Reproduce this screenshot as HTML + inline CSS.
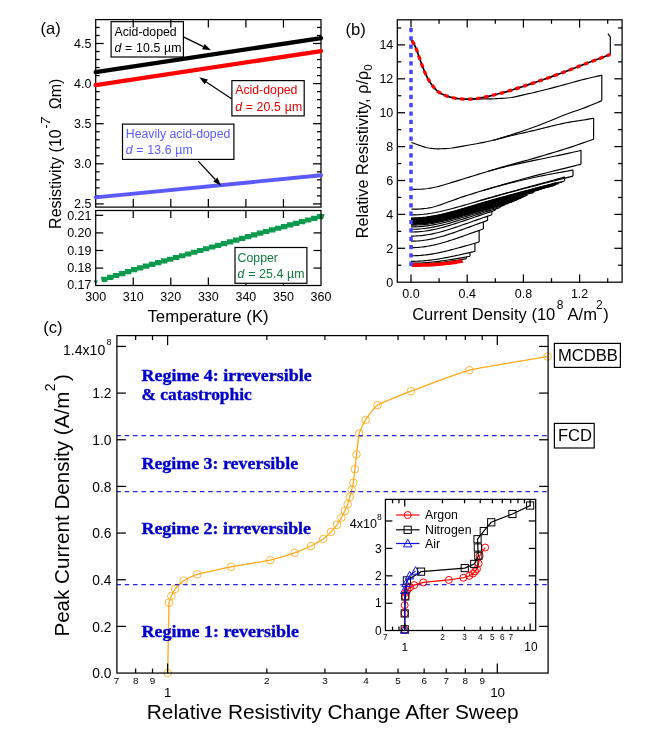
<!DOCTYPE html>
<html><head><meta charset="utf-8"><title>figure</title>
<style>
html,body{margin:0;padding:0;background:#fff;}
body{width:654px;height:740px;overflow:hidden;}
svg{display:block;will-change:transform;font-family:"Liberation Sans",sans-serif;}
.k{stroke:#000;stroke-width:1.25;fill:none;stroke-linecap:butt}
.c{stroke:#000;stroke-width:1.15;fill:none;stroke-linejoin:round}
.bx{stroke:#000;stroke-width:1.2;fill:#fff}
.rg{font-family:"Liberation Serif",serif;font-weight:bold;fill:#0000c8;stroke:#0000c8;stroke-width:0.35}
.bd{stroke:#2626d6;stroke-width:1.2;fill:none;stroke-dasharray:4.55 3.8;stroke-dashoffset:0.57}
.o{stroke:#ffa91c;stroke-width:1.3;fill:none}
</style></head><body>
<svg width="654" height="740" viewBox="0 0 654 740">
<rect width="654" height="740" fill="#fff"/>

<path d="M93.3 280.6L98.1 280.6L95.7 284.4ZM100.7 276.82L108.5 276.82L107.2 282.02L102 282.02ZM106.7 274.86L114.5 274.86L113.2 280.06L108 280.06ZM112.7 272.91L120.5 272.91L119.2 278.11L114 278.11ZM118.7 270.95L126.5 270.95L125.2 276.15L120 276.15ZM124.7 269L132.5 269L131.2 274.2L126 274.2ZM130.7 267.09L138.5 267.09L137.2 272.29L132 272.29ZM136.7 265.35L144.5 265.35L143.2 270.55L138 270.55ZM142.7 263.61L150.5 263.61L149.2 268.81L144 268.81ZM148.7 261.86L156.5 261.86L155.2 267.06L150 267.06ZM154.7 260.12L162.5 260.12L161.2 265.32L156 265.32ZM160.7 258.37L168.5 258.37L167.2 263.57L162 263.57ZM166.7 256.63L174.5 256.63L173.2 261.83L168 261.83ZM172.7 254.89L180.5 254.89L179.2 260.09L174 260.09ZM178.7 253.14L186.5 253.14L185.2 258.34L180 258.34ZM184.7 251.4L192.5 251.4L191.2 256.6L186 256.6ZM190.7 249.65L198.5 249.65L197.2 254.85L192 254.85ZM196.7 247.91L204.5 247.91L203.2 253.11L198 253.11ZM202.7 246.17L210.5 246.17L209.2 251.37L204 251.37ZM208.7 244.42L216.5 244.42L215.2 249.62L210 249.62ZM214.7 242.68L222.5 242.68L221.2 247.88L216 247.88ZM220.7 240.94L228.5 240.94L227.2 246.14L222 246.14ZM226.7 239.19L234.5 239.19L233.2 244.39L228 244.39ZM232.7 237.45L240.5 237.45L239.2 242.65L234 242.65ZM238.7 235.7L246.5 235.7L245.2 240.9L240 240.9ZM244.7 233.96L252.5 233.96L251.2 239.16L246 239.16ZM250.7 232.22L258.5 232.22L257.2 237.42L252 237.42ZM256.7 230.57L264.5 230.57L263.2 235.77L258 235.77ZM262.7 228.92L270.5 228.92L269.2 234.12L264 234.12ZM268.7 227.28L276.5 227.28L275.2 232.48L270 232.48ZM274.7 225.63L282.5 225.63L281.2 230.83L276 230.83ZM280.7 223.99L288.5 223.99L287.2 229.19L282 229.19ZM286.7 222.34L294.5 222.34L293.2 227.54L288 227.54ZM292.7 220.7L300.5 220.7L299.2 225.9L294 225.9ZM298.7 219.05L306.5 219.05L305.2 224.25L300 224.25ZM304.7 217.41L312.5 217.41L311.2 222.61L306 222.61ZM310.7 215.77L318.5 215.77L317.2 220.97L312 220.97ZM316.7 214.12L324.5 214.12L323.2 219.32L318 219.32Z" fill="#0d9a4f"/>
<rect x="95.7" y="19.6" width="225.3" height="187.5" class="k"/>
<rect x="95.7" y="210.5" width="225.3" height="75.0" class="k"/>
<line x1="133.25" y1="19.6" x2="133.25" y2="27.6" class="k"/>
<line x1="133.25" y1="207.1" x2="133.25" y2="199.1" class="k"/>
<line x1="133.25" y1="210.5" x2="133.25" y2="218" class="k"/>
<line x1="133.25" y1="285.5" x2="133.25" y2="277.5" class="k"/>
<line x1="170.8" y1="19.6" x2="170.8" y2="27.6" class="k"/>
<line x1="170.8" y1="207.1" x2="170.8" y2="199.1" class="k"/>
<line x1="170.8" y1="210.5" x2="170.8" y2="218" class="k"/>
<line x1="170.8" y1="285.5" x2="170.8" y2="277.5" class="k"/>
<line x1="208.35" y1="19.6" x2="208.35" y2="27.6" class="k"/>
<line x1="208.35" y1="207.1" x2="208.35" y2="199.1" class="k"/>
<line x1="208.35" y1="210.5" x2="208.35" y2="218" class="k"/>
<line x1="208.35" y1="285.5" x2="208.35" y2="277.5" class="k"/>
<line x1="245.9" y1="19.6" x2="245.9" y2="27.6" class="k"/>
<line x1="245.9" y1="207.1" x2="245.9" y2="199.1" class="k"/>
<line x1="245.9" y1="210.5" x2="245.9" y2="218" class="k"/>
<line x1="245.9" y1="285.5" x2="245.9" y2="277.5" class="k"/>
<line x1="283.45" y1="19.6" x2="283.45" y2="27.6" class="k"/>
<line x1="283.45" y1="207.1" x2="283.45" y2="199.1" class="k"/>
<line x1="283.45" y1="210.5" x2="283.45" y2="218" class="k"/>
<line x1="283.45" y1="285.5" x2="283.45" y2="277.5" class="k"/>
<line x1="95.7" y1="203.9" x2="103.7" y2="203.9" class="k"/>
<line x1="321" y1="203.9" x2="313" y2="203.9" class="k"/>
<line x1="95.7" y1="195.88" x2="99.7" y2="195.88" class="k"/>
<line x1="321" y1="195.88" x2="317" y2="195.88" class="k"/>
<line x1="95.7" y1="187.86" x2="99.7" y2="187.86" class="k"/>
<line x1="321" y1="187.86" x2="317" y2="187.86" class="k"/>
<line x1="95.7" y1="179.84" x2="99.7" y2="179.84" class="k"/>
<line x1="321" y1="179.84" x2="317" y2="179.84" class="k"/>
<line x1="95.7" y1="171.82" x2="99.7" y2="171.82" class="k"/>
<line x1="321" y1="171.82" x2="317" y2="171.82" class="k"/>
<line x1="95.7" y1="163.8" x2="103.7" y2="163.8" class="k"/>
<line x1="321" y1="163.8" x2="313" y2="163.8" class="k"/>
<line x1="95.7" y1="155.78" x2="99.7" y2="155.78" class="k"/>
<line x1="321" y1="155.78" x2="317" y2="155.78" class="k"/>
<line x1="95.7" y1="147.76" x2="99.7" y2="147.76" class="k"/>
<line x1="321" y1="147.76" x2="317" y2="147.76" class="k"/>
<line x1="95.7" y1="139.74" x2="99.7" y2="139.74" class="k"/>
<line x1="321" y1="139.74" x2="317" y2="139.74" class="k"/>
<line x1="95.7" y1="131.72" x2="99.7" y2="131.72" class="k"/>
<line x1="321" y1="131.72" x2="317" y2="131.72" class="k"/>
<line x1="95.7" y1="123.7" x2="103.7" y2="123.7" class="k"/>
<line x1="321" y1="123.7" x2="313" y2="123.7" class="k"/>
<line x1="95.7" y1="115.68" x2="99.7" y2="115.68" class="k"/>
<line x1="321" y1="115.68" x2="317" y2="115.68" class="k"/>
<line x1="95.7" y1="107.66" x2="99.7" y2="107.66" class="k"/>
<line x1="321" y1="107.66" x2="317" y2="107.66" class="k"/>
<line x1="95.7" y1="99.64" x2="99.7" y2="99.64" class="k"/>
<line x1="321" y1="99.64" x2="317" y2="99.64" class="k"/>
<line x1="95.7" y1="91.62" x2="99.7" y2="91.62" class="k"/>
<line x1="321" y1="91.62" x2="317" y2="91.62" class="k"/>
<line x1="95.7" y1="83.6" x2="103.7" y2="83.6" class="k"/>
<line x1="321" y1="83.6" x2="313" y2="83.6" class="k"/>
<line x1="95.7" y1="75.58" x2="99.7" y2="75.58" class="k"/>
<line x1="321" y1="75.58" x2="317" y2="75.58" class="k"/>
<line x1="95.7" y1="67.56" x2="99.7" y2="67.56" class="k"/>
<line x1="321" y1="67.56" x2="317" y2="67.56" class="k"/>
<line x1="95.7" y1="59.54" x2="99.7" y2="59.54" class="k"/>
<line x1="321" y1="59.54" x2="317" y2="59.54" class="k"/>
<line x1="95.7" y1="51.52" x2="99.7" y2="51.52" class="k"/>
<line x1="321" y1="51.52" x2="317" y2="51.52" class="k"/>
<line x1="95.7" y1="43.5" x2="103.7" y2="43.5" class="k"/>
<line x1="321" y1="43.5" x2="313" y2="43.5" class="k"/>
<line x1="95.7" y1="35.48" x2="99.7" y2="35.48" class="k"/>
<line x1="321" y1="35.48" x2="317" y2="35.48" class="k"/>
<line x1="95.7" y1="27.46" x2="99.7" y2="27.46" class="k"/>
<line x1="321" y1="27.46" x2="317" y2="27.46" class="k"/>
<line x1="95.7" y1="268.1" x2="103.2" y2="268.1" class="k"/>
<line x1="321" y1="268.1" x2="313.5" y2="268.1" class="k"/>
<line x1="95.7" y1="250.5" x2="103.2" y2="250.5" class="k"/>
<line x1="321" y1="250.5" x2="313.5" y2="250.5" class="k"/>
<line x1="95.7" y1="232.9" x2="103.2" y2="232.9" class="k"/>
<line x1="321" y1="232.9" x2="313.5" y2="232.9" class="k"/>
<line x1="95.7" y1="215.3" x2="103.2" y2="215.3" class="k"/>
<line x1="95.7" y1="72.1" x2="321.0" y2="38.1" stroke="#000" stroke-width="4.3" stroke-linecap="round"/>
<line x1="95.7" y1="85.1" x2="321.0" y2="51.1" stroke="#f00" stroke-width="4.3" stroke-linecap="round"/>
<line x1="95.7" y1="197.4" x2="321.0" y2="175.3" stroke="#5a5aff" stroke-width="3.9" stroke-linecap="round"/>
<text x="91.5" y="47.8" font-size="12.5" text-anchor="end" >4.5</text>
<text x="91.5" y="87.9" font-size="12.5" text-anchor="end" >4.0</text>
<text x="91.5" y="128" font-size="12.5" text-anchor="end" >3.5</text>
<text x="91.5" y="168.1" font-size="12.5" text-anchor="end" >3.0</text>
<text x="91.5" y="208.2" font-size="12.5" text-anchor="end" >2.5</text>
<text x="91.5" y="219.6" font-size="12.5" text-anchor="end" >0.21</text>
<text x="91.5" y="237.2" font-size="12.5" text-anchor="end" >0.20</text>
<text x="91.5" y="254.8" font-size="12.5" text-anchor="end" >0.19</text>
<text x="91.5" y="272.4" font-size="12.5" text-anchor="end" >0.18</text>
<text x="91.5" y="288.8" font-size="12.5" text-anchor="end" >0.17</text>
<text x="95.7" y="301.3" font-size="12.5" text-anchor="middle" >300</text>
<text x="133.25" y="301.3" font-size="12.5" text-anchor="middle" >310</text>
<text x="170.8" y="301.3" font-size="12.5" text-anchor="middle" >320</text>
<text x="208.35" y="301.3" font-size="12.5" text-anchor="middle" >330</text>
<text x="245.9" y="301.3" font-size="12.5" text-anchor="middle" >340</text>
<text x="283.45" y="301.3" font-size="12.5" text-anchor="middle" >350</text>
<text x="321" y="301.3" font-size="12.5" text-anchor="middle" >360</text>
<text x="208.1" y="322.4" font-size="16.8" text-anchor="middle" >Temperature (K)</text>
<text x="40.5" y="34.2" font-size="16.5" text-anchor="start" >(a)</text>
<text transform="translate(61.4 228.9) rotate(-90)" font-size="16">Resistivity (10<tspan dy="-11.5" dx="0.5" font-size="13" font-style="italic">-7</tspan><tspan dy="11.5" dx="3.5"> Ωm)</tspan></text>
<rect x="111.1" y="21.7" width="72.3" height="35.3" class="bx" style="fill:none"/>
<text x="114.5" y="35.55" font-size="12.3" text-anchor="start" fill="#000" >Acid-doped</text>
<text x="114.5" y="51.95" font-size="12.3" text-anchor="start" fill="#000" letter-spacing="0.14"><tspan font-style="italic">d</tspan> = 10.5 µm</text>
<line x1="183.4" y1="36.9" x2="203.35" y2="46.59" class="k"/>
<path d="M211 50.3L202.09 49.2L204.62 43.98Z" fill="#000"/>
<rect x="231.9" y="80.6" width="72.3" height="35.3" class="bx" style="fill:none"/>
<text x="235.2" y="94.45" font-size="12.3" text-anchor="start" fill="#e60000" >Acid-doped</text>
<text x="235.2" y="110.85" font-size="12.3" text-anchor="start" fill="#e60000" letter-spacing="0.14"><tspan font-style="italic">d</tspan> = 20.5 µm</text>
<line x1="231.9" y1="99.1" x2="206.26" y2="81.93" class="k"/>
<path d="M199.2 77.2L207.88 79.52L204.65 84.34Z" fill="#000"/>
<rect x="122.5" y="124.1" width="111.4" height="35.3" class="bx" style="fill:none"/>
<text x="125.8" y="137.95" font-size="12.3" text-anchor="start" fill="#5a5aff" >Heavily acid-doped</text>
<text x="125.8" y="154.35" font-size="12.3" text-anchor="start" fill="#5a5aff" letter-spacing="0.14"><tspan font-style="italic">d</tspan> = 13.6 µm</text>
<line x1="198.2" y1="161.1" x2="215.31" y2="179.48" class="k"/>
<path d="M221.1 185.7L213.19 181.45L217.43 177.5Z" fill="#000"/>
<rect x="235" y="247.5" width="71.9" height="35.8" class="bx" style="fill:#fff"/>
<text x="237.6" y="261.6" font-size="12.3" text-anchor="start" fill="#0d7a3f" >Copper</text>
<text x="237.6" y="278" font-size="12.3" text-anchor="start" fill="#0d7a3f" letter-spacing="0.14"><tspan font-style="italic">d</tspan> = 25.4 µm</text>
<path d="M411 264.4 L412.39 264.4 L413.77 264.39 L415.16 264.36 L416.55 264.33 L417.94 264.29 L419.32 264.25 L420.71 264.19 L422.1 264.12 L423.49 264.05 L424.87 263.97 L426.26 263.88 L427.65 263.78 L429.04 263.67 L430.42 263.56 L431.81 263.44 L433.2 263.31 L434.59 263.17 L435.97 263.02 L437.36 262.87 L438.75 262.72 L440.14 262.55 L441.52 262.38 L442.91 262.21 L444.3 262.03 L445.69 261.84 L447.07 261.65 L448.46 261.46 L449.85 261.26 L451.24 261.06 L452.62 260.85 L454.01 260.65 L455.4 260.44 L456.79 260.22 L458.17 260.01 L459.56 259.79 L460.95 259.58 L462.34 259.36 L463.72 259.14 L465.11 258.92 L466.5 258.7" class="c" />
<path d="M411 263.22 L412.48 263.21 L413.95 263.19 L415.43 263.17 L416.9 263.13 L418.38 263.08 L419.85 263.02 L421.33 262.95 L422.8 262.87 L424.28 262.77 L425.75 262.67 L427.23 262.56 L428.7 262.44 L430.18 262.3 L431.65 262.16 L433.13 262.01 L434.6 261.84 L436.08 261.67 L437.55 261.49 L439.03 261.31 L440.5 261.11 L441.98 260.91 L443.46 260.7 L444.93 260.49 L446.41 260.26 L447.88 260.04 L449.36 259.81 L450.83 259.57 L452.31 259.33 L453.78 259.09 L455.26 258.84 L456.73 258.59 L458.21 258.34 L459.68 258.08 L461.16 257.83 L462.63 257.57 L464.11 257.31 L465.58 257.05 L467.06 256.79 L468.53 256.53 L470.01 256.27" class="c" />
<path d="M411 261.35 L412.6 261.34 L414.2 261.32 L415.79 261.28 L417.39 261.22 L418.99 261.15 L420.59 261.06 L422.19 260.95 L423.79 260.83 L425.38 260.69 L426.98 260.54 L428.58 260.37 L430.18 260.18 L431.78 259.99 L433.37 259.77 L434.97 259.55 L436.57 259.31 L438.17 259.06 L439.77 258.79 L441.37 258.52 L442.96 258.23 L444.56 257.94 L446.16 257.63 L447.76 257.32 L449.36 257 L450.95 256.67 L452.55 256.34 L454.15 256 L455.75 255.66 L457.35 255.31 L458.95 254.96 L460.54 254.61 L462.14 254.25 L463.74 253.9 L465.34 253.54 L466.94 253.18 L468.53 252.82 L470.13 252.46 L471.73 252.1 L473.33 251.74 L474.93 251.38" class="c" />
<path d="M411 255.76 L412.7 255.75 L414.41 255.71 L416.11 255.65 L417.81 255.57 L419.52 255.47 L421.22 255.34 L422.92 255.19 L424.63 255.01 L426.33 254.82 L428.04 254.6 L429.74 254.36 L431.44 254.1 L433.15 253.82 L434.85 253.52 L436.55 253.2 L438.26 252.86 L439.96 252.51 L441.66 252.14 L443.37 251.75 L445.07 251.35 L446.77 250.94 L448.48 250.52 L450.18 250.09 L451.89 249.65 L453.59 249.2 L455.29 248.74 L457 248.28 L458.7 247.81 L460.4 247.34 L462.11 246.86 L463.81 246.39 L465.51 245.91 L467.22 245.43 L468.92 244.95 L470.62 244.46 L472.33 243.98 L474.03 243.5 L475.74 243.02 L477.44 242.54 L479.14 242.07" class="c" />
<path d="M411 247.62 L412.81 247.61 L414.62 247.56 L416.43 247.47 L418.24 247.36 L420.04 247.21 L421.85 247.03 L423.66 246.81 L425.47 246.57 L427.28 246.29 L429.09 245.98 L430.9 245.65 L432.71 245.28 L434.52 244.88 L436.33 244.46 L438.13 244.01 L439.94 243.54 L441.75 243.05 L443.56 242.53 L445.37 242 L447.18 241.45 L448.99 240.88 L450.8 240.3 L452.61 239.71 L454.41 239.1 L456.22 238.49 L458.03 237.87 L459.84 237.24 L461.65 236.61 L463.46 235.97 L465.27 235.33 L467.08 234.69 L468.89 234.05 L470.69 233.41 L472.5 232.77 L474.31 232.12 L476.12 231.48 L477.93 230.85 L479.74 230.21 L481.55 229.57 L483.36 228.94" class="c" />
<path d="M411 241.18 L412.91 241.16 L414.83 241.1 L416.74 241.01 L418.66 240.88 L420.57 240.7 L422.49 240.49 L424.4 240.25 L426.31 239.97 L428.23 239.65 L430.14 239.29 L432.06 238.9 L433.97 238.48 L435.89 238.03 L437.8 237.55 L439.71 237.04 L441.63 236.5 L443.54 235.94 L445.46 235.35 L447.37 234.75 L449.29 234.13 L451.2 233.49 L453.11 232.84 L455.03 232.18 L456.94 231.51 L458.86 230.83 L460.77 230.14 L462.69 229.45 L464.6 228.75 L466.52 228.05 L468.43 227.35 L470.34 226.65 L472.26 225.95 L474.17 225.25 L476.09 224.55 L478 223.85 L479.92 223.16 L481.83 222.46 L483.74 221.77 L485.66 221.09 L487.57 220.4" class="c" />
<path d="M411 236.1 L413.02 236.08 L415.04 236.01 L417.06 235.91 L419.08 235.77 L421.1 235.59 L423.12 235.37 L425.14 235.1 L427.16 234.8 L429.18 234.46 L431.2 234.09 L433.22 233.68 L435.24 233.23 L437.26 232.75 L439.28 232.24 L441.3 231.71 L443.31 231.14 L445.33 230.56 L447.35 229.95 L449.37 229.32 L451.39 228.68 L453.41 228.02 L455.43 227.35 L457.45 226.67 L459.47 225.98 L461.49 225.28 L463.51 224.58 L465.53 223.88 L467.55 223.17 L469.57 222.46 L471.59 221.75 L473.61 221.05 L475.63 220.34 L477.65 219.64 L479.67 218.93 L481.69 218.23 L483.71 217.54 L485.73 216.84 L487.75 216.15 L489.77 215.47 L491.79 214.78" class="c" />
<path d="M411 232.03 L413.11 232.01 L415.21 231.94 L417.32 231.84 L419.43 231.69 L421.54 231.49 L423.64 231.26 L425.75 230.98 L427.86 230.67 L429.97 230.31 L432.07 229.92 L434.18 229.49 L436.29 229.02 L438.4 228.52 L440.5 227.99 L442.61 227.44 L444.72 226.85 L446.83 226.24 L448.94 225.62 L451.04 224.97 L453.15 224.31 L455.26 223.63 L457.37 222.95 L459.47 222.25 L461.58 221.55 L463.69 220.85 L465.8 220.13 L467.9 219.42 L470.01 218.71 L472.12 218 L474.23 217.28 L476.33 216.57 L478.44 215.86 L480.55 215.16 L482.65 214.45 L484.76 213.75 L486.87 213.06 L488.98 212.36 L491.09 211.67 L493.19 210.98 L495.3 210.3" class="c" />
<path d="M411 229.32 L413.23 229.29 L415.46 229.23 L417.69 229.11 L419.92 228.96 L422.15 228.76 L424.38 228.51 L426.61 228.22 L428.84 227.89 L431.07 227.52 L433.3 227.11 L435.53 226.67 L437.77 226.18 L440 225.67 L442.23 225.12 L444.46 224.55 L446.69 223.95 L448.92 223.33 L451.15 222.69 L453.38 222.03 L455.61 221.36 L457.84 220.68 L460.07 219.99 L462.3 219.29 L464.53 218.59 L466.76 217.89 L468.99 217.18 L471.22 216.48 L473.45 215.77 L475.68 215.07 L477.91 214.37 L480.14 213.67 L482.37 212.97 L484.6 212.27 L486.83 211.58 L489.07 210.9 L491.3 210.21 L493.53 209.54 L495.76 208.86 L497.99 208.19 L500.22 207.52" class="c" />
<path d="M411 226.94 L413.34 226.92 L415.67 226.85 L418.01 226.74 L420.34 226.57 L422.68 226.37 L425.01 226.12 L427.35 225.82 L429.69 225.48 L432.02 225.1 L434.36 224.68 L436.69 224.22 L439.03 223.73 L441.37 223.2 L443.7 222.65 L446.04 222.07 L448.37 221.46 L450.71 220.84 L453.04 220.2 L455.38 219.54 L457.72 218.87 L460.05 218.19 L462.39 217.51 L464.72 216.82 L467.06 216.13 L469.4 215.43 L471.73 214.74 L474.07 214.04 L476.4 213.35 L478.74 212.66 L481.07 211.98 L483.41 211.29 L485.75 210.61 L488.08 209.94 L490.42 209.26 L492.75 208.59 L495.09 207.93 L497.43 207.27 L499.76 206.61 L502.1 205.95 L504.43 205.3" class="c" />
<path d="M411 225.25 L413.44 225.22 L415.88 225.15 L418.32 225.03 L420.76 224.86 L423.21 224.65 L425.65 224.38 L428.09 224.07 L430.53 223.72 L432.97 223.32 L435.41 222.88 L437.85 222.41 L440.29 221.9 L442.74 221.35 L445.18 220.78 L447.62 220.18 L450.06 219.56 L452.5 218.92 L454.94 218.27 L457.38 217.6 L459.82 216.92 L462.26 216.24 L464.71 215.54 L467.15 214.85 L469.59 214.16 L472.03 213.46 L474.47 212.77 L476.91 212.07 L479.35 211.38 L481.79 210.69 L484.24 210.01 L486.68 209.33 L489.12 208.65 L491.56 207.98 L494 207.31 L496.44 206.65 L498.88 205.98 L501.32 205.33 L503.77 204.67 L506.21 204.02 L508.65 203.37" class="c" />
<path d="M411 223.89 L413.55 223.87 L416.09 223.79 L418.64 223.66 L421.19 223.48 L423.73 223.25 L426.28 222.98 L428.83 222.65 L431.37 222.28 L433.92 221.86 L436.47 221.4 L439.01 220.9 L441.56 220.36 L444.11 219.8 L446.65 219.2 L449.2 218.58 L451.75 217.93 L454.29 217.27 L456.84 216.6 L459.38 215.91 L461.93 215.22 L464.48 214.52 L467.02 213.81 L469.57 213.11 L472.12 212.4 L474.66 211.7 L477.21 210.99 L479.76 210.29 L482.3 209.6 L484.85 208.9 L487.4 208.21 L489.94 207.53 L492.49 206.85 L495.04 206.17 L497.58 205.49 L500.13 204.83 L502.68 204.16 L505.22 203.5 L507.77 202.84 L510.32 202.19 L512.86 201.53" class="c" />
<path d="M411 222.71 L413.65 222.68 L416.3 222.6 L418.96 222.46 L421.61 222.27 L424.26 222.03 L426.91 221.74 L429.56 221.39 L432.22 221 L434.87 220.55 L437.52 220.07 L440.17 219.54 L442.82 218.98 L445.48 218.39 L448.13 217.77 L450.78 217.12 L453.43 216.45 L456.08 215.77 L458.73 215.08 L461.39 214.37 L464.04 213.66 L466.69 212.94 L469.34 212.22 L471.99 211.51 L474.65 210.79 L477.3 210.07 L479.95 209.36 L482.6 208.65 L485.25 207.94 L487.91 207.24 L490.56 206.55 L493.21 205.85 L495.86 205.17 L498.51 204.48 L501.17 203.8 L503.82 203.13 L506.47 202.45 L509.12 201.79 L511.77 201.12 L514.43 200.46 L517.08 199.8" class="c" />
<path d="M411 221.86 L413.76 221.83 L416.51 221.74 L419.27 221.6 L422.03 221.39 L424.79 221.13 L427.54 220.81 L430.3 220.44 L433.06 220.02 L435.82 219.55 L438.57 219.03 L441.33 218.47 L444.09 217.87 L446.85 217.24 L449.6 216.58 L452.36 215.9 L455.12 215.2 L457.87 214.48 L460.63 213.75 L463.39 213.02 L466.15 212.28 L468.9 211.53 L471.66 210.79 L474.42 210.04 L477.18 209.3 L479.93 208.56 L482.69 207.83 L485.45 207.1 L488.2 206.37 L490.96 205.65 L493.72 204.93 L496.48 204.22 L499.23 203.51 L501.99 202.81 L504.75 202.11 L507.51 201.42 L510.26 200.73 L513.02 200.04 L515.78 199.36 L518.54 198.68 L521.29 198" class="c" />
<path d="M411 221.18 L413.86 221.15 L416.73 221.05 L419.59 220.89 L422.45 220.67 L425.31 220.39 L428.18 220.04 L431.04 219.64 L433.9 219.18 L436.76 218.67 L439.63 218.11 L442.49 217.51 L445.35 216.86 L448.21 216.19 L451.08 215.48 L453.94 214.76 L456.8 214.01 L459.67 213.25 L462.53 212.48 L465.39 211.71 L468.25 210.93 L471.12 210.15 L473.98 209.37 L476.84 208.59 L479.7 207.81 L482.57 207.04 L485.43 206.27 L488.29 205.51 L491.16 204.76 L494.02 204.01 L496.88 203.26 L499.74 202.52 L502.61 201.78 L505.47 201.05 L508.33 200.32 L511.19 199.6 L514.06 198.88 L516.92 198.16 L519.78 197.45 L522.64 196.74 L525.51 196.04" class="c" />
<path d="M411 220.5 L414.07 220.46 L417.15 220.35 L420.22 220.16 L423.29 219.89 L426.37 219.55 L429.44 219.14 L432.51 218.66 L435.59 218.12 L438.66 217.51 L441.73 216.85 L444.81 216.15 L447.88 215.4 L450.95 214.61 L454.03 213.8 L457.1 212.97 L460.18 212.12 L463.25 211.26 L466.32 210.39 L469.4 209.52 L472.47 208.65 L475.54 207.78 L478.62 206.91 L481.69 206.05 L484.76 205.2 L487.84 204.34 L490.91 203.5 L493.98 202.66 L497.06 201.83 L500.13 201 L503.2 200.18 L506.28 199.37 L509.35 198.56 L512.42 197.75 L515.5 196.95 L518.57 196.15 L521.64 195.36 L524.72 194.57 L527.79 193.79 L530.86 193.01 L533.94 192.23" class="c" />
<path d="M411 219.82 L414.3 219.78 L417.6 219.64 L420.91 219.42 L424.21 219.1 L427.51 218.7 L430.81 218.21 L434.11 217.65 L437.41 217.01 L440.72 216.3 L444.02 215.54 L447.32 214.72 L450.62 213.86 L453.92 212.96 L457.22 212.04 L460.53 211.1 L463.83 210.15 L467.13 209.19 L470.43 208.23 L473.73 207.27 L477.03 206.31 L480.34 205.35 L483.64 204.4 L486.94 203.46 L490.24 202.53 L493.54 201.6 L496.85 200.68 L500.15 199.76 L503.45 198.86 L506.75 197.96 L510.05 197.06 L513.35 196.18 L516.66 195.29 L519.96 194.42 L523.26 193.54 L526.56 192.67 L529.86 191.81 L533.16 190.95 L536.47 190.09 L539.77 189.23 L543.07 188.38" class="c" />
<path d="M411 219.15 L414.62 219.09 L418.24 218.93 L421.85 218.67 L425.47 218.29 L429.09 217.82 L432.71 217.25 L436.33 216.59 L439.94 215.85 L443.56 215.03 L447.18 214.15 L450.8 213.23 L454.41 212.26 L458.03 211.26 L461.65 210.24 L465.27 209.21 L468.89 208.17 L472.5 207.14 L476.12 206.1 L479.74 205.07 L483.36 204.04 L486.98 203.03 L490.59 202.02 L494.21 201.02 L497.83 200.03 L501.45 199.05 L505.06 198.07 L508.68 197.1 L512.3 196.14 L515.92 195.19 L519.54 194.24 L523.15 193.3 L526.77 192.36 L530.39 191.43 L534.01 190.5 L537.63 189.58 L541.24 188.65 L544.86 187.74 L548.48 186.82 L552.1 185.91 L555.72 185" class="c" />
<path d="M411 217.96 L414.84 217.9 L418.68 217.71 L422.52 217.41 L426.36 216.98 L430.2 216.44 L434.03 215.79 L437.87 215.05 L441.71 214.21 L445.55 213.29 L449.39 212.31 L453.23 211.28 L457.07 210.21 L460.91 209.11 L464.75 208 L468.59 206.88 L472.43 205.76 L476.27 204.64 L480.1 203.53 L483.94 202.42 L487.78 201.33 L491.62 200.24 L495.46 199.16 L499.3 198.1 L503.14 197.04 L506.98 195.99 L510.82 194.95 L514.66 193.92 L518.5 192.89 L522.34 191.87 L526.17 190.86 L530.01 189.85 L533.85 188.85 L537.69 187.85 L541.53 186.86 L545.37 185.87 L549.21 184.88 L553.05 183.9 L556.89 182.91 L560.73 181.94 L564.57 180.96" class="c" />
<path d="M411 214.91 L415.05 214.84 L419.1 214.64 L423.15 214.3 L427.2 213.83 L431.25 213.24 L435.3 212.53 L439.35 211.71 L443.4 210.79 L447.45 209.8 L451.5 208.75 L455.55 207.64 L459.6 206.51 L463.65 205.35 L467.7 204.18 L471.75 203.01 L475.8 201.84 L479.85 200.67 L483.9 199.51 L487.95 198.37 L492 197.23 L496.05 196.11 L500.1 194.99 L504.15 193.89 L508.2 192.79 L512.25 191.71 L516.3 190.63 L520.35 189.56 L524.4 188.5 L528.45 187.44 L532.5 186.39 L536.55 185.34 L540.6 184.3 L544.65 183.27 L548.7 182.23 L552.75 181.2 L556.8 180.18 L560.85 179.15 L564.9 178.13 L568.95 177.12 L573 176.1" class="c" />
<path d="M411 224.23 L413.52 224.21 L416.04 224.13 L418.56 224 L421.08 223.83 L423.6 223.6 L426.12 223.33 L428.64 223 L431.16 222.64 L433.68 222.22 L436.2 221.77 L438.72 221.27 L441.24 220.74 L443.76 220.18 L446.28 219.59 L448.8 218.97 L451.32 218.33 L453.84 217.68 L456.36 217.01 L458.88 216.32 L461.4 215.63 L463.92 214.93 L466.44 214.23 L468.97 213.53 L471.49 212.83 L474.01 212.12 L476.53 211.42 L479.05 210.72 L481.57 210.02 L484.09 209.33 L486.61 208.64 L489.13 207.96 L491.65 207.28 L494.17 206.6 L496.69 205.93 L499.21 205.26 L501.73 204.59 L504.25 203.93 L506.77 203.27 L509.29 202.62 L511.81 201.97" class="c" />
<path d="M411 223.77 L413.56 223.75 L416.11 223.67 L418.67 223.54 L421.23 223.36 L423.79 223.13 L426.34 222.85 L428.9 222.52 L431.46 222.15 L434.01 221.73 L436.57 221.27 L439.13 220.76 L441.69 220.23 L444.24 219.65 L446.8 219.06 L449.36 218.43 L451.91 217.79 L454.47 217.12 L457.03 216.45 L459.58 215.76 L462.14 215.06 L464.7 214.36 L467.26 213.65 L469.81 212.95 L472.37 212.24 L474.93 211.53 L477.48 210.83 L480.04 210.13 L482.6 209.43 L485.16 208.74 L487.71 208.05 L490.27 207.36 L492.83 206.68 L495.38 206 L497.94 205.33 L500.5 204.66 L503.06 203.99 L505.61 203.33 L508.17 202.67 L510.73 202.01 L513.28 201.36" class="c" />
<path d="M411 223.32 L413.6 223.29 L416.2 223.21 L418.79 223.08 L421.39 222.9 L423.99 222.66 L426.59 222.37 L429.18 222.04 L431.78 221.65 L434.38 221.23 L436.98 220.75 L439.58 220.24 L442.17 219.69 L444.77 219.11 L447.37 218.5 L449.97 217.87 L452.56 217.22 L455.16 216.54 L457.76 215.86 L460.36 215.16 L462.95 214.46 L465.55 213.75 L468.15 213.04 L470.75 212.33 L473.35 211.62 L475.94 210.91 L478.54 210.2 L481.14 209.49 L483.74 208.79 L486.33 208.1 L488.93 207.4 L491.53 206.71 L494.13 206.03 L496.73 205.35 L499.32 204.67 L501.92 204 L504.52 203.33 L507.12 202.67 L509.71 202.01 L512.31 201.35 L514.91 200.69" class="c" />
<path d="M411 222.86 L413.64 222.83 L416.28 222.75 L418.92 222.62 L421.55 222.43 L424.19 222.19 L426.83 221.89 L429.47 221.55 L432.11 221.16 L434.75 220.72 L437.38 220.24 L440.02 219.72 L442.66 219.16 L445.3 218.57 L447.94 217.95 L450.58 217.31 L453.21 216.64 L455.85 215.96 L458.49 215.27 L461.13 214.57 L463.77 213.86 L466.41 213.14 L469.04 212.43 L471.68 211.71 L474.32 210.99 L476.96 210.28 L479.6 209.57 L482.24 208.86 L484.87 208.16 L487.51 207.46 L490.15 206.76 L492.79 206.07 L495.43 205.38 L498.07 204.7 L500.71 204.02 L503.34 203.34 L505.98 202.67 L508.62 202.01 L511.26 201.34 L513.9 200.68 L516.54 200.02" class="c" />
<path d="M411 222.4 L413.69 222.37 L416.38 222.29 L419.07 222.15 L421.76 221.96 L424.45 221.71 L427.14 221.4 L429.83 221.05 L432.52 220.65 L435.21 220.19 L437.9 219.7 L440.59 219.16 L443.28 218.59 L445.97 217.98 L448.66 217.35 L451.35 216.69 L454.04 216.01 L456.73 215.32 L459.42 214.61 L462.11 213.89 L464.8 213.17 L467.49 212.45 L470.18 211.72 L472.87 210.99 L475.56 210.27 L478.25 209.54 L480.94 208.82 L483.63 208.11 L486.32 207.39 L489.01 206.69 L491.7 205.98 L494.39 205.28 L497.08 204.59 L499.77 203.9 L502.46 203.21 L505.15 202.53 L507.84 201.85 L510.53 201.18 L513.22 200.51 L515.91 199.84 L518.59 199.18" class="c" />
<path d="M411 221.94 L413.75 221.91 L416.49 221.83 L419.24 221.68 L421.99 221.48 L424.73 221.22 L427.48 220.91 L430.23 220.54 L432.97 220.12 L435.72 219.65 L438.47 219.13 L441.21 218.58 L443.96 217.99 L446.71 217.36 L449.45 216.7 L452.2 216.03 L454.95 215.33 L457.7 214.62 L460.44 213.89 L463.19 213.16 L465.94 212.42 L468.68 211.68 L471.43 210.94 L474.18 210.2 L476.92 209.46 L479.67 208.72 L482.42 207.99 L485.16 207.26 L487.91 206.54 L490.66 205.82 L493.4 205.11 L496.15 204.4 L498.9 203.69 L501.64 202.99 L504.39 202.29 L507.14 201.6 L509.88 200.91 L512.63 200.23 L515.38 199.55 L518.12 198.87 L520.87 198.19" class="c" />
<path d="M411 221.49 L413.82 221.45 L416.63 221.36 L419.45 221.21 L422.26 221 L425.08 220.72 L427.89 220.39 L430.71 220 L433.52 219.56 L436.34 219.07 L439.15 218.52 L441.97 217.94 L444.78 217.32 L447.6 216.66 L450.41 215.98 L453.23 215.27 L456.04 214.55 L458.86 213.81 L461.67 213.06 L464.49 212.3 L467.31 211.53 L470.12 210.77 L472.94 210.01 L475.75 209.24 L478.57 208.48 L481.38 207.73 L484.2 206.97 L487.01 206.23 L489.83 205.48 L492.64 204.75 L495.46 204.01 L498.27 203.28 L501.09 202.56 L503.9 201.84 L506.72 201.13 L509.53 200.42 L512.35 199.71 L515.16 199.01 L517.98 198.31 L520.8 197.61 L523.61 196.92" class="c" />
<path d="M411 221.03 L413.91 220.99 L416.82 220.89 L419.73 220.73 L422.64 220.5 L425.55 220.2 L428.46 219.84 L431.37 219.42 L434.28 218.94 L437.19 218.41 L440.1 217.83 L443.01 217.2 L445.92 216.53 L448.83 215.83 L451.74 215.1 L454.65 214.35 L457.56 213.58 L460.47 212.8 L463.38 212.01 L466.29 211.21 L469.2 210.41 L472.11 209.6 L475.02 208.8 L477.93 208.01 L480.84 207.21 L483.75 206.42 L486.66 205.64 L489.57 204.86 L492.48 204.08 L495.39 203.31 L498.3 202.55 L501.21 201.79 L504.12 201.04 L507.03 200.29 L509.94 199.54 L512.85 198.8 L515.76 198.07 L518.67 197.33 L521.58 196.6 L524.49 195.88 L527.4 195.16" class="c" />
<path d="M411 220.57 L414.05 220.53 L417.1 220.42 L420.16 220.23 L423.21 219.97 L426.26 219.64 L429.31 219.23 L432.37 218.76 L435.42 218.23 L438.47 217.63 L441.52 216.98 L444.58 216.28 L447.63 215.55 L450.68 214.77 L453.73 213.97 L456.79 213.15 L459.84 212.31 L462.89 211.46 L465.94 210.6 L468.99 209.74 L472.05 208.88 L475.1 208.02 L478.15 207.16 L481.2 206.3 L484.26 205.45 L487.31 204.61 L490.36 203.77 L493.41 202.94 L496.47 202.12 L499.52 201.3 L502.57 200.48 L505.62 199.68 L508.68 198.87 L511.73 198.08 L514.78 197.28 L517.83 196.49 L520.89 195.71 L523.94 194.93 L526.99 194.15 L530.04 193.37 L533.09 192.6" class="c" />
<path d="M411 220.11 L414.2 220.07 L417.41 219.94 L420.61 219.73 L423.82 219.44 L427.02 219.06 L430.23 218.61 L433.43 218.08 L436.64 217.48 L439.84 216.82 L443.05 216.1 L446.25 215.32 L449.46 214.51 L452.66 213.66 L455.87 212.79 L459.07 211.89 L462.28 210.98 L465.48 210.06 L468.68 209.14 L471.89 208.21 L475.09 207.29 L478.3 206.37 L481.5 205.45 L484.71 204.54 L487.91 203.64 L491.12 202.74 L494.32 201.85 L497.53 200.97 L500.73 200.09 L503.94 199.22 L507.14 198.36 L510.35 197.5 L513.55 196.65 L516.76 195.8 L519.96 194.96 L523.17 194.12 L526.37 193.28 L529.57 192.45 L532.78 191.62 L535.98 190.8 L539.19 189.98" class="c" />
<path d="M411 219.65 L414.38 219.61 L417.76 219.47 L421.14 219.23 L424.52 218.9 L427.9 218.48 L431.28 217.97 L434.67 217.38 L438.05 216.71 L441.43 215.98 L444.81 215.18 L448.19 214.33 L451.57 213.44 L454.95 212.52 L458.33 211.57 L461.71 210.6 L465.09 209.63 L468.47 208.64 L471.85 207.66 L475.23 206.68 L478.62 205.7 L482 204.72 L485.38 203.76 L488.76 202.8 L492.14 201.84 L495.52 200.9 L498.9 199.96 L502.28 199.03 L505.66 198.11 L509.04 197.19 L512.42 196.28 L515.8 195.38 L519.18 194.48 L522.57 193.59 L525.95 192.7 L529.33 191.81 L532.71 190.93 L536.09 190.05 L539.47 189.18 L542.85 188.31 L546.23 187.44" class="c" />
<path d="M411 219.2 L414.59 219.14 L418.19 218.99 L421.78 218.72 L425.38 218.36 L428.97 217.89 L432.56 217.33 L436.16 216.67 L439.75 215.94 L443.35 215.13 L446.94 214.26 L450.54 213.34 L454.13 212.38 L457.72 211.4 L461.32 210.39 L464.91 209.36 L468.51 208.33 L472.1 207.3 L475.69 206.27 L479.29 205.24 L482.88 204.23 L486.48 203.21 L490.07 202.21 L493.67 201.22 L497.26 200.23 L500.85 199.25 L504.45 198.28 L508.04 197.32 L511.64 196.36 L515.23 195.42 L518.82 194.47 L522.42 193.54 L526.01 192.6 L529.61 191.68 L533.2 190.75 L536.8 189.83 L540.39 188.92 L543.98 188 L547.58 187.1 L551.17 186.19 L554.77 185.28" class="c" />
<path d="M411 218.74 L414.69 218.68 L418.39 218.51 L422.08 218.24 L425.77 217.85 L429.47 217.35 L433.16 216.75 L436.86 216.06 L440.55 215.29 L444.24 214.44 L447.94 213.52 L451.63 212.56 L455.32 211.56 L459.02 210.53 L462.71 209.48 L466.41 208.42 L470.1 207.35 L473.79 206.28 L477.49 205.22 L481.18 204.16 L484.87 203.11 L488.57 202.07 L492.26 201.04 L495.96 200.02 L499.65 199 L503.34 198 L507.04 197 L510.73 196.01 L514.42 195.03 L518.12 194.05 L521.81 193.08 L525.51 192.12 L529.2 191.16 L532.89 190.2 L536.59 189.25 L540.28 188.31 L543.97 187.36 L547.67 186.42 L551.36 185.49 L555.06 184.55 L558.75 183.62" class="c" />
<path d="M411 218.28 L414.78 218.22 L418.56 218.05 L422.34 217.75 L426.12 217.34 L429.9 216.82 L433.67 216.19 L437.45 215.47 L441.23 214.65 L445.01 213.76 L448.79 212.81 L452.57 211.81 L456.35 210.77 L460.13 209.7 L463.91 208.61 L467.69 207.52 L471.47 206.42 L475.24 205.32 L479.02 204.23 L482.8 203.14 L486.58 202.07 L490.36 201 L494.14 199.94 L497.92 198.89 L501.7 197.85 L505.48 196.82 L509.26 195.8 L513.04 194.79 L516.81 193.78 L520.59 192.78 L524.37 191.78 L528.15 190.79 L531.93 189.81 L535.71 188.83 L539.49 187.85 L543.27 186.88 L547.05 185.91 L550.83 184.94 L554.61 183.98 L558.38 183.02 L562.16 182.06" class="c" />
<path d="M411.4 209.2 L412.31 209.19 L413.55 209.19 L415.03 209.19 L416.66 209.16 L418.35 209.11 L420 209 L421.67 208.85 L423.43 208.68 L425.24 208.47 L427.09 208.23 L428.92 207.94 L430.7 207.6 L432.42 207.21 L434.09 206.77 L435.76 206.29 L437.44 205.76 L439.18 205.2 L441 204.6 L442.88 203.96 L444.79 203.28 L446.74 202.56 L448.78 201.8 L450.92 201.01 L453.2 200.2 L455.46 199.39 L457.66 198.6 L459.96 197.78 L462.53 196.88 L465.56 195.87 L469.2 194.7 L473.62 193.33 L478.7 191.78 L484.24 190.12 L490 188.41 L495.76 186.71 L501.3 185.1 L506.66 183.55 L512.03 182.02 L517.4 180.5 L522.77 179 L528.14 177.54 L533.5 176.1 L539.05 174.66 L544.83 173.21 L550.6 171.78 L556.14 170.43 L561.22 169.18 L565.6 168.1 L569.31 167.17 L572.54 166.35 L575.31 165.65 L577.63 165.06 L579.52 164.58 L581 164.2" class="c" />
<path d="M411.4 189.3 L412.77 189.29 L414.65 189.3 L416.88 189.29 L419.3 189.26 L421.73 189.17 L424 189 L426.13 188.76 L428.26 188.46 L430.41 188.1 L432.58 187.69 L434.81 187.22 L437.1 186.7 L439.45 186.11 L441.85 185.45 L444.29 184.74 L446.8 183.98 L449.36 183.2 L452 182.4 L454.56 181.63 L457.01 180.87 L459.52 180.09 L462.28 179.23 L465.44 178.25 L469.2 177.1 L473.69 175.73 L478.79 174.17 L484.31 172.48 L490.04 170.74 L495.77 169.03 L501.3 167.4 L506.66 165.87 L512.03 164.37 L517.4 162.89 L522.77 161.42 L528.14 159.93 L533.5 158.4 L538.9 156.83 L544.36 155.24 L549.81 153.64 L555.21 152.02 L560.49 150.41 L565.6 148.8 L570.83 147.09 L576.27 145.24 L581.61 143.4 L586.49 141.69 L590.6 140.24 L593.6 139.2" class="c" />
<path d="M411.4 142.4 L411.78 142.55 L412.3 142.76 L412.91 143 L413.59 143.27 L414.3 143.54 L415 143.8 L415.67 144.05 L416.34 144.29 L417.03 144.54 L417.79 144.8 L418.63 145.08 L419.6 145.4 L420.73 145.77 L422 146.2 L423.37 146.64 L424.77 147.08 L426.17 147.48 L427.5 147.8 L428.8 148.05 L430.1 148.24 L431.4 148.39 L432.66 148.51 L433.87 148.61 L435 148.7 L435.96 148.77 L436.76 148.83 L437.5 148.86 L438.3 148.86 L439.26 148.84 L440.5 148.8 L442 148.74 L443.68 148.68 L445.52 148.59 L447.52 148.46 L449.68 148.27 L452 148 L454.54 147.63 L457.31 147.17 L460.24 146.65 L463.25 146.1 L466.26 145.54 L469.2 145 L472.11 144.49 L475.05 143.97 L478 143.46 L480.91 142.93 L483.76 142.38 L486.5 141.8 L488.91 141.27 L490.97 140.8 L492.97 140.31 L495.17 139.72 L497.86 138.95 L501.3 137.9 L505.66 136.55 L510.75 134.94 L516.32 133.16 L522.13 131.24 L527.94 129.27 L533.5 127.3 L539 125.23 L544.68 122.98 L550.36 120.67 L555.85 118.41 L560.99 116.32 L565.6 114.5 L569.59 113.01 L573.07 111.77 L576.2 110.69 L579.12 109.69 L581.97 108.69 L584.9 107.6 L588.05 106.36 L591.34 105.01 L594.56 103.67 L597.51 102.42 L599.99 101.36 L601.8 100.6" class="c" />
<path d="M411.4 40.1 L411.62 40.41 L411.93 40.83 L412.29 41.33 L412.69 41.9 L413.1 42.53 L413.5 43.2 L413.9 43.92 L414.31 44.71 L414.74 45.56 L415.17 46.44 L415.59 47.36 L416 48.3 L416.39 49.26 L416.78 50.27 L417.16 51.3 L417.54 52.36 L417.92 53.42 L418.3 54.5 L418.66 55.53 L418.98 56.5 L419.31 57.49 L419.66 58.56 L420.08 59.78 L420.6 61.2 L421.22 62.9 L421.93 64.85 L422.7 66.94 L423.51 69.07 L424.35 71.16 L425.2 73.1 L426.04 74.91 L426.9 76.67 L427.78 78.38 L428.7 80.03 L429.67 81.64 L430.7 83.2 L431.79 84.73 L432.93 86.24 L434.12 87.69 L435.36 89.07 L436.65 90.35 L438 91.5 L439.42 92.51 L440.93 93.4 L442.48 94.18 L444.06 94.88 L445.64 95.52 L447.2 96.1 L448.71 96.62 L450.2 97.06 L451.69 97.43 L453.2 97.75 L454.76 98.04 L456.4 98.3 L458.13 98.55 L459.93 98.76 L461.79 98.94 L463.67 99.08 L465.55 99.17 L467.4 99.2 L469.23 99.17 L471.07 99.08 L472.9 98.94 L474.73 98.76 L476.57 98.55 L478.4 98.3 L480.23 98.02 L482.07 97.69 L483.9 97.32 L485.73 96.93 L487.57 96.52 L489.4 96.1 L491.23 95.67 L493.07 95.22 L494.9 94.76 L496.73 94.28 L498.57 93.79 L500.4 93.3 L502.21 92.81 L504 92.33 L505.78 91.84 L507.59 91.33 L509.46 90.78 L511.4 90.2 L513.46 89.56 L515.61 88.87 L517.82 88.14 L520.04 87.41 L522.21 86.69 L524.3 86 L526.13 85.4 L527.72 84.89 L529.27 84.38 L530.98 83.81 L533.05 83.11 L535.7 82.2 L539.04 81.04 L542.92 79.69 L547.18 78.21 L551.61 76.64 L556.05 75.05 L560.3 73.5 L564.39 71.96 L568.47 70.39 L572.55 68.8 L576.64 67.2 L580.75 65.59 L584.9 64 L589.38 62.31 L594.25 60.48 L599.14 58.66 L603.69 56.96 L607.53 55.53 L610.3 54.5" class="c" style="stroke-width:1.7"/>
<path d="M466.5 258.7 L466.5 256.89" class="c" />
<path d="M470.01 256.27 L470.01 252.49" class="c" />
<path d="M474.93 251.38 L474.93 243.25" class="c" />
<path d="M479.14 242.07 L479.14 230.42" class="c" />
<path d="M483.36 228.94 L483.36 221.91" class="c" />
<path d="M487.57 220.4 L487.57 216.21" class="c" />
<path d="M491.79 214.78 L491.79 211.44" class="c" />
<path d="M495.3 210.3 L495.3 209" class="c" />
<path d="M500.22 207.52 L500.22 206.48" class="c" />
<path d="M504.43 205.3 L504.43 204.49" class="c" />
<path d="M508.65 203.37 L508.65 202.61" class="c" />
<path d="M512.86 201.53 L512.86 200.85" class="c" />
<path d="M517.08 199.8 L517.08 199.04" class="c" />
<path d="M521.29 198 L521.29 197.08" class="c" />
<path d="M525.51 196.04 L525.51 194.37" class="c" />
<path d="M533.94 192.23 L533.94 190.75" class="c" />
<path d="M543.07 188.38 L543.07 188.19" class="c" />
<path d="M476.12 204.68 L478.11 204.1 L480.1 203.53 L482.09 202.95 L484.08 202.38 L486.07 201.8 L488.06 201.23 L490.05 200.66 L492.04 200.1 L494.03 199.53 L496.02 198.97 L498.01 198.41 L500 197.86 L501.99 197.3 L503.98 196.75 L505.97 196.2 L507.96 195.65 L509.95 195.11 L511.94 194.56 L513.93 194.02 L515.92 193.48 L517.91 192.94 L519.9 192.4 L521.89 191.86 L523.88 191.33 L525.87 190.79 L527.86 190.26 L529.85 189.73 L531.84 189.2 L533.83 188.67 L535.82 188.14 L537.81 187.61 L539.8 187.09 L541.79 186.56 L543.78 186.03 L545.77 185.51 L547.76 184.99 L549.75 184.46 L551.74 183.94 L553.73 183.42 L555.72 182.9 L555.72 185.08" class="c" />
<path d="M480.1 200.6 L482.22 199.99 L484.33 199.38 L486.44 198.78 L488.55 198.17 L490.66 197.56 L492.77 196.96 L494.89 196.36 L497 195.76 L499.11 195.16 L501.22 194.56 L503.33 193.97 L505.44 193.37 L507.55 192.78 L509.67 192.19 L511.78 191.6 L513.89 191.01 L516 190.43 L518.11 189.84 L520.22 189.25 L522.34 188.67 L524.45 188.09 L526.56 187.5 L528.67 186.92 L530.78 186.34 L532.89 185.76 L535 185.18 L537.12 184.6 L539.23 184.02 L541.34 183.45 L543.45 182.87 L545.56 182.29 L547.67 181.71 L549.79 181.14 L551.9 180.56 L554.01 179.98 L556.12 179.41 L558.23 178.83 L560.34 178.25 L562.45 177.68 L564.57 177.1 L564.57 180.84" class="c" />
<path d="M483.9 190.22 L486.13 189.57 L488.35 188.93 L490.58 188.3 L492.81 187.67 L495.04 187.06 L497.26 186.46 L499.49 185.86 L501.72 185.27 L503.95 184.68 L506.17 184.1 L508.4 183.53 L510.63 182.97 L512.86 182.41 L515.08 181.86 L517.31 181.31 L519.54 180.77 L521.77 180.24 L523.99 179.72 L526.22 179.2 L528.45 178.69 L530.67 178.2 L532.9 177.71 L535.13 177.23 L537.36 176.76 L539.58 176.3 L541.81 175.86 L544.04 175.41 L546.27 174.98 L548.49 174.55 L550.72 174.13 L552.95 173.71 L555.18 173.3 L557.4 172.88 L559.63 172.47 L561.86 172.07 L564.09 171.65 L566.31 171.24 L568.54 170.83 L570.77 170.41 L573 170 L573 176.09" class="c" />
<path d="M487.5 171.51 L489.84 170.82 L492.18 170.16 L494.51 169.51 L496.85 168.88 L499.19 168.26 L501.53 167.66 L503.87 167.08 L506.2 166.51 L508.54 165.97 L510.88 165.43 L513.22 164.91 L515.55 164.39 L517.89 163.88 L520.23 163.38 L522.57 162.89 L524.9 162.39 L527.24 161.9 L529.58 161.41 L531.92 160.91 L534.25 160.42 L536.59 159.93 L538.93 159.44 L541.27 158.95 L543.6 158.46 L545.94 157.98 L548.28 157.5 L550.62 157.02 L552.95 156.54 L555.29 156.06 L557.63 155.57 L559.97 155.08 L562.3 154.59 L564.64 154.09 L566.98 153.59 L569.32 153.07 L571.65 152.55 L573.99 152.01 L576.33 151.48 L578.67 150.94 L581 150.4 L581 164.2" class="c" />
<path d="M493.19 140.25 L495.7 139.61 L498.22 138.95 L500.73 138.3 L503.24 137.65 L505.75 137.03 L508.26 136.41 L510.77 135.81 L513.28 135.21 L515.8 134.63 L518.31 134.04 L520.82 133.47 L523.33 132.9 L525.84 132.33 L528.35 131.76 L530.86 131.18 L533.38 130.61 L535.89 130 L538.4 129.4 L540.91 128.77 L543.42 128.15 L545.93 127.52 L548.44 126.88 L550.96 126.26 L553.47 125.64 L555.98 125.03 L558.49 124.44 L561 123.86 L563.51 123.32 L566.02 122.8 L568.54 122.33 L571.05 121.9 L573.56 121.5 L576.07 121.14 L578.58 120.78 L581.09 120.43 L583.6 120.04 L586.12 119.61 L588.63 119.16 L591.14 118.69 L593.65 118.2 L593.6 139.2" class="c" />
<path d="M467.4 99.2 L468.6 99.18 L470.27 99.14 L472.24 99.11 L474.36 99.07 L476.46 99.03 L478.4 99 L480.22 98.98 L482.07 98.97 L483.91 98.96 L485.7 98.94 L487.41 98.93 L489 98.9 L490.37 98.87 L491.52 98.84 L492.59 98.81 L493.72 98.77 L495.05 98.7 L496.7 98.6 L498.77 98.48 L501.15 98.36 L503.72 98.21 L506.37 98.03 L508.97 97.8 L511.4 97.5 L513.67 97.12 L515.89 96.65 L518.06 96.14 L520.18 95.6 L522.26 95.08 L524.3 94.6 L526.13 94.2 L527.72 93.88 L529.27 93.56 L530.98 93.2 L533.05 92.73 L535.7 92.1 L539.04 91.27 L542.92 90.3 L547.18 89.21 L551.61 88.07 L556.05 86.92 L560.3 85.8 L564.49 84.67 L568.79 83.49 L573.08 82.3 L577.27 81.14 L581.25 80.06 L584.9 79.1 L588.36 78.24 L591.73 77.45 L594.89 76.73 L597.7 76.11 L600.05 75.59 L601.8 75.2 L601.8 100.6" class="c" />
<path d="M610.3 54.5 L610.3 36.8 L607.9 33.6" class="c" />
<path d="M411.56 265.17 L413.27 265.16 L414.97 265.16 L416.68 265.14 L418.38 265.12 L420.09 265.1 L421.79 265.06 L423.5 265.02 L425.2 264.96 L426.9 264.9 L428.61 264.83 L430.31 264.74 L432.02 264.65 L433.72 264.55 L435.43 264.43 L437.13 264.3 L438.84 264.17 L440.54 264.02 L442.25 263.86 L443.95 263.68 L445.66 263.5 L447.36 263.3 L449.07 263.09 L450.77 262.87 L452.48 262.63 L454.18 262.38 L455.89 262.12 L457.59 261.84 L459.29 261.55 L461 261.25 L462.7 260.93" class="" stroke="#f00" stroke-width="3.6" fill="none" stroke-linecap="butt"/>
<path d="M411.4 40.1 L411.62 40.41 L411.93 40.83 L412.29 41.33 L412.69 41.9 L413.1 42.53 L413.5 43.2 L413.9 43.92 L414.31 44.71 L414.74 45.56 L415.17 46.44 L415.59 47.36 L416 48.3 L416.39 49.26 L416.78 50.27 L417.16 51.3 L417.54 52.36 L417.92 53.42 L418.3 54.5 L418.66 55.53 L418.98 56.5 L419.31 57.49 L419.66 58.56 L420.08 59.78 L420.6 61.2 L421.22 62.9 L421.93 64.85 L422.7 66.94 L423.51 69.07 L424.35 71.16 L425.2 73.1 L426.04 74.91 L426.9 76.67 L427.78 78.38 L428.7 80.03 L429.67 81.64 L430.7 83.2 L431.79 84.73 L432.93 86.24 L434.12 87.69 L435.36 89.07 L436.65 90.35 L438 91.5 L439.42 92.51 L440.93 93.4 L442.48 94.18 L444.06 94.88 L445.64 95.52 L447.2 96.1 L448.71 96.62 L450.2 97.06 L451.69 97.43 L453.2 97.75 L454.76 98.04 L456.4 98.3 L458.13 98.55 L459.93 98.76 L461.79 98.94 L463.67 99.08 L465.55 99.17 L467.4 99.2 L469.23 99.17 L471.07 99.08 L472.9 98.94 L474.73 98.76 L476.57 98.55 L478.4 98.3 L480.23 98.02 L482.07 97.69 L483.9 97.32 L485.73 96.93 L487.57 96.52 L489.4 96.1 L491.23 95.67 L493.07 95.22 L494.9 94.76 L496.73 94.28 L498.57 93.79 L500.4 93.3 L502.21 92.81 L504 92.33 L505.78 91.84 L507.59 91.33 L509.46 90.78 L511.4 90.2 L513.46 89.56 L515.61 88.87 L517.82 88.14 L520.04 87.41 L522.21 86.69 L524.3 86 L526.13 85.4 L527.72 84.89 L529.27 84.38 L530.98 83.81 L533.05 83.11 L535.7 82.2 L539.04 81.04 L542.92 79.69 L547.18 78.21 L551.61 76.64 L556.05 75.05 L560.3 73.5 L564.39 71.96 L568.47 70.39 L572.55 68.8 L576.64 67.2 L580.75 65.59 L584.9 64 L589.38 62.31 L594.25 60.48 L599.14 58.66 L603.69 56.96 L607.53 55.53 L610.3 54.5" class="" stroke="#f00" stroke-width="3.3" fill="none" stroke-dasharray="4.4 3.7" stroke-dashoffset="-1"/>
<line x1="411" y1="27.9" x2="411" y2="266.2" stroke="#4444ff" stroke-width="3.5" stroke-dasharray="4.25 4.1"/>
<rect x="397.3" y="19.8" width="224.8" height="262.4" class="k"/>
<line x1="397.3" y1="265.25" x2="401.3" y2="265.25" class="k"/>
<line x1="622.1" y1="265.25" x2="618.1" y2="265.25" class="k"/>
<line x1="397.3" y1="248.3" x2="405.1" y2="248.3" class="k"/>
<line x1="622.1" y1="248.3" x2="614.3" y2="248.3" class="k"/>
<line x1="397.3" y1="231.35" x2="401.3" y2="231.35" class="k"/>
<line x1="622.1" y1="231.35" x2="618.1" y2="231.35" class="k"/>
<line x1="397.3" y1="214.4" x2="405.1" y2="214.4" class="k"/>
<line x1="622.1" y1="214.4" x2="614.3" y2="214.4" class="k"/>
<line x1="397.3" y1="197.45" x2="401.3" y2="197.45" class="k"/>
<line x1="622.1" y1="197.45" x2="618.1" y2="197.45" class="k"/>
<line x1="397.3" y1="180.5" x2="405.1" y2="180.5" class="k"/>
<line x1="622.1" y1="180.5" x2="614.3" y2="180.5" class="k"/>
<line x1="397.3" y1="163.55" x2="401.3" y2="163.55" class="k"/>
<line x1="622.1" y1="163.55" x2="618.1" y2="163.55" class="k"/>
<line x1="397.3" y1="146.6" x2="405.1" y2="146.6" class="k"/>
<line x1="622.1" y1="146.6" x2="614.3" y2="146.6" class="k"/>
<line x1="397.3" y1="129.65" x2="401.3" y2="129.65" class="k"/>
<line x1="622.1" y1="129.65" x2="618.1" y2="129.65" class="k"/>
<line x1="397.3" y1="112.7" x2="405.1" y2="112.7" class="k"/>
<line x1="622.1" y1="112.7" x2="614.3" y2="112.7" class="k"/>
<line x1="397.3" y1="95.75" x2="401.3" y2="95.75" class="k"/>
<line x1="622.1" y1="95.75" x2="618.1" y2="95.75" class="k"/>
<line x1="397.3" y1="78.8" x2="405.1" y2="78.8" class="k"/>
<line x1="622.1" y1="78.8" x2="614.3" y2="78.8" class="k"/>
<line x1="397.3" y1="61.85" x2="401.3" y2="61.85" class="k"/>
<line x1="622.1" y1="61.85" x2="618.1" y2="61.85" class="k"/>
<line x1="397.3" y1="44.9" x2="405.1" y2="44.9" class="k"/>
<line x1="622.1" y1="44.9" x2="614.3" y2="44.9" class="k"/>
<line x1="397.3" y1="27.95" x2="401.3" y2="27.95" class="k"/>
<line x1="622.1" y1="27.95" x2="618.1" y2="27.95" class="k"/>
<line x1="411" y1="19.8" x2="411" y2="27.6" class="k"/>
<line x1="411" y1="282.2" x2="411" y2="274.4" class="k"/>
<line x1="439.1" y1="19.8" x2="439.1" y2="23.8" class="k"/>
<line x1="439.1" y1="282.2" x2="439.1" y2="278.2" class="k"/>
<line x1="467.2" y1="19.8" x2="467.2" y2="27.6" class="k"/>
<line x1="467.2" y1="282.2" x2="467.2" y2="274.4" class="k"/>
<line x1="495.3" y1="19.8" x2="495.3" y2="23.8" class="k"/>
<line x1="495.3" y1="282.2" x2="495.3" y2="278.2" class="k"/>
<line x1="523.4" y1="19.8" x2="523.4" y2="27.6" class="k"/>
<line x1="523.4" y1="282.2" x2="523.4" y2="274.4" class="k"/>
<line x1="551.5" y1="19.8" x2="551.5" y2="23.8" class="k"/>
<line x1="551.5" y1="282.2" x2="551.5" y2="278.2" class="k"/>
<line x1="579.6" y1="19.8" x2="579.6" y2="27.6" class="k"/>
<line x1="579.6" y1="282.2" x2="579.6" y2="274.4" class="k"/>
<line x1="607.7" y1="19.8" x2="607.7" y2="23.8" class="k"/>
<line x1="607.7" y1="282.2" x2="607.7" y2="278.2" class="k"/>
<text x="393.3" y="286.5" font-size="12.5" text-anchor="end" >0</text>
<text x="393.3" y="252.6" font-size="12.5" text-anchor="end" >2</text>
<text x="393.3" y="218.7" font-size="12.5" text-anchor="end" >4</text>
<text x="393.3" y="184.8" font-size="12.5" text-anchor="end" >6</text>
<text x="393.3" y="150.9" font-size="12.5" text-anchor="end" >8</text>
<text x="393.3" y="117" font-size="12.5" text-anchor="end" >10</text>
<text x="393.3" y="83.1" font-size="12.5" text-anchor="end" >12</text>
<text x="393.3" y="49.2" font-size="12.5" text-anchor="end" >14</text>
<text x="411" y="298.1" font-size="12.5" text-anchor="middle" >0.0</text>
<text x="467.2" y="298.1" font-size="12.5" text-anchor="middle" >0.4</text>
<text x="523.4" y="298.1" font-size="12.5" text-anchor="middle" >0.8</text>
<text x="579.6" y="298.1" font-size="12.5" text-anchor="middle" >1.2</text>
<text x="345.4" y="34.5" font-size="16.6" text-anchor="start" >(b)</text>
<text transform="translate(368.4 238.3) rotate(-90)" font-size="16.3">Relative Resistivity, ρ/ρ<tspan dy="3.5" font-size="11.5">0</tspan></text>
<text x="412.2" y="319.9" font-size="16.5">Current Density (10<tspan dy="-10.6" dx="1.5" font-size="12">8</tspan><tspan dy="10.6" dx="0.5"> A/m</tspan><tspan dy="-10.6" dx="-1" font-size="12">2</tspan><tspan dy="10.6" dx="0.5">)</tspan></text>
<path d="M167.7 673 L169 602.7 L169.27 601.91 L169.79 600.42 L170.41 598.65 L171 597.04 L171.4 596 L171.87 594.98 L172.64 593.39 L173.54 591.59 L174.41 589.97 L175.1 588.9 L176.17 587.72 L178.01 585.84 L180.16 583.73 L182.17 581.86 L183.6 580.7 L185.33 579.72 L188.16 578.28 L191.51 576.68 L194.79 575.25 L197.4 574.3 L201.72 573.24 L209.19 571.56 L217.87 569.66 L225.79 567.97 L231 566.9 L236.68 565.91 L245.76 564.39 L255.92 562.71 L264.84 561.19 L270.2 560.2 L274.24 559.13 L279.94 557.45 L286.06 555.56 L291.36 553.87 L294.6 552.8 L297.25 551.79 L301.06 550.25 L305.18 548.53 L308.78 547 L311 546 L312.93 544.98 L315.78 543.39 L318.88 541.62 L321.57 540.03 L323.2 539 L324.48 537.98 L326.29 536.39 L328.24 534.62 L329.94 533.03 L331 532 L331.94 530.95 L333.33 529.32 L334.85 527.49 L336.18 525.85 L337 524.8 L337.69 523.76 L338.71 522.14 L339.82 520.34 L340.79 518.73 L341.4 517.7 L341.94 516.7 L342.75 515.15 L343.64 513.43 L344.41 511.89 L344.9 510.9 L345.33 509.92 L345.98 508.41 L346.7 506.71 L347.32 505.19 L347.7 504.2 L348.02 503.16 L348.47 501.53 L348.97 499.7 L349.41 498.06 L349.7 497 L350 495.95 L350.45 494.31 L350.97 492.48 L351.42 490.85 L351.7 489.8 L351.95 488.8 L352.31 487.28 L352.71 485.55 L353.07 483.92 L353.3 482.7 L353.53 480.91 L353.9 477.89 L354.3 474.41 L354.67 471.25 L354.9 469.2 L355.13 467.13 L355.47 463.89 L355.87 460.21 L356.24 456.84 L356.5 454.5 L356.84 451.54 L357.39 446.67 L358.05 441.17 L358.69 436.32 L359.2 433.4 L359.99 431.22 L361.35 428.15 L362.96 424.82 L364.48 421.86 L365.6 419.9 L367.03 417.77 L369.41 414.4 L372.26 410.62 L375.12 407.25 L377.5 405.1 L381.6 403.09 L388.75 400.04 L397.19 396.59 L405.16 393.43 L410.9 391.2 L418.61 388.28 L431.52 383.44 L446.42 377.95 L460.11 373.12 L469.4 370.2 L480.83 367.89 L499.61 364.57 L520.48 361.02 L538.23 358.07 L547.6 356.5" class="o" />
<circle cx="167.7" cy="673" r="3.8" class="o" style="stroke-width:0.85"/>
<circle cx="169" cy="602.7" r="3.8" class="o" style="stroke-width:0.85"/>
<circle cx="171.4" cy="596" r="3.8" class="o" style="stroke-width:0.85"/>
<circle cx="175.1" cy="588.9" r="3.8" class="o" style="stroke-width:0.85"/>
<circle cx="183.6" cy="580.7" r="3.8" class="o" style="stroke-width:0.85"/>
<circle cx="197.4" cy="574.3" r="3.8" class="o" style="stroke-width:0.85"/>
<circle cx="231" cy="566.9" r="3.8" class="o" style="stroke-width:0.85"/>
<circle cx="270.2" cy="560.2" r="3.8" class="o" style="stroke-width:0.85"/>
<circle cx="294.6" cy="552.8" r="3.8" class="o" style="stroke-width:0.85"/>
<circle cx="311" cy="546" r="3.8" class="o" style="stroke-width:0.85"/>
<circle cx="323.2" cy="539" r="3.8" class="o" style="stroke-width:0.85"/>
<circle cx="331" cy="532" r="3.8" class="o" style="stroke-width:0.85"/>
<circle cx="337" cy="524.8" r="3.8" class="o" style="stroke-width:0.85"/>
<circle cx="341.4" cy="517.7" r="3.8" class="o" style="stroke-width:0.85"/>
<circle cx="344.9" cy="510.9" r="3.8" class="o" style="stroke-width:0.85"/>
<circle cx="347.7" cy="504.2" r="3.8" class="o" style="stroke-width:0.85"/>
<circle cx="349.7" cy="497" r="3.8" class="o" style="stroke-width:0.85"/>
<circle cx="351.7" cy="489.8" r="3.8" class="o" style="stroke-width:0.85"/>
<circle cx="353.3" cy="482.7" r="3.8" class="o" style="stroke-width:0.85"/>
<circle cx="354.9" cy="469.2" r="3.8" class="o" style="stroke-width:0.85"/>
<circle cx="356.5" cy="454.5" r="3.8" class="o" style="stroke-width:0.85"/>
<circle cx="359.2" cy="433.4" r="3.8" class="o" style="stroke-width:0.85"/>
<circle cx="365.6" cy="419.9" r="3.8" class="o" style="stroke-width:0.85"/>
<circle cx="377.5" cy="405.1" r="3.8" class="o" style="stroke-width:0.85"/>
<circle cx="410.9" cy="391.2" r="3.8" class="o" style="stroke-width:0.85"/>
<circle cx="469.4" cy="370.2" r="3.8" class="o" style="stroke-width:0.85"/>
<circle cx="547.6" cy="356.5" r="3.8" class="o" style="stroke-width:0.85"/>
<line x1="116.9" y1="435.6" x2="548.1" y2="435.6" class="bd"/>
<line x1="116.9" y1="491.6" x2="548.1" y2="491.6" class="bd"/>
<line x1="116.9" y1="584.6" x2="548.1" y2="584.6" class="bd"/>
<text x="141.5" y="381.1" font-size="16.6" class="rg" textLength="170.2" lengthAdjust="spacingAndGlyphs">Regime 4: irreversible</text>
<text x="141.5" y="399.8" font-size="16.6" class="rg" textLength="110.2" lengthAdjust="spacingAndGlyphs">&amp; catastrophic</text>
<text x="141.5" y="468.8" font-size="16.6" class="rg" textLength="156.7" lengthAdjust="spacingAndGlyphs">Regime 3: reversible</text>
<text x="141.5" y="533.6" font-size="16.6" class="rg" textLength="169.5" lengthAdjust="spacingAndGlyphs">Regime 2: irreversible</text>
<text x="141.5" y="637.2" font-size="16.6" class="rg" textLength="157.5" lengthAdjust="spacingAndGlyphs">Regime 1: reversible</text>
<rect x="116.9" y="335.6" width="431.2" height="337.46" class="k"/>
<line x1="116.9" y1="626.4" x2="125.9" y2="626.4" class="k"/>
<line x1="548.1" y1="626.4" x2="539.1" y2="626.4" class="k"/>
<line x1="116.9" y1="579.74" x2="125.9" y2="579.74" class="k"/>
<line x1="548.1" y1="579.74" x2="539.1" y2="579.74" class="k"/>
<line x1="116.9" y1="533.08" x2="125.9" y2="533.08" class="k"/>
<line x1="548.1" y1="533.08" x2="539.1" y2="533.08" class="k"/>
<line x1="116.9" y1="486.42" x2="125.9" y2="486.42" class="k"/>
<line x1="548.1" y1="486.42" x2="539.1" y2="486.42" class="k"/>
<line x1="116.9" y1="439.76" x2="125.9" y2="439.76" class="k"/>
<line x1="548.1" y1="439.76" x2="539.1" y2="439.76" class="k"/>
<line x1="116.9" y1="393.1" x2="125.9" y2="393.1" class="k"/>
<line x1="548.1" y1="393.1" x2="539.1" y2="393.1" class="k"/>
<line x1="116.9" y1="346.44" x2="125.9" y2="346.44" class="k"/>
<line x1="548.1" y1="346.44" x2="539.1" y2="346.44" class="k"/>
<line x1="135.65" y1="335.6" x2="135.65" y2="340.1" class="k"/>
<line x1="135.65" y1="673.06" x2="135.65" y2="668.56" class="k"/>
<line x1="152.51" y1="335.6" x2="152.51" y2="340.1" class="k"/>
<line x1="152.51" y1="673.06" x2="152.51" y2="668.56" class="k"/>
<line x1="167.6" y1="335.6" x2="167.6" y2="345.1" class="k"/>
<line x1="167.6" y1="673.06" x2="167.6" y2="663.56" class="k"/>
<line x1="266.85" y1="335.6" x2="266.85" y2="340.1" class="k"/>
<line x1="266.85" y1="673.06" x2="266.85" y2="668.56" class="k"/>
<line x1="324.91" y1="335.6" x2="324.91" y2="340.1" class="k"/>
<line x1="324.91" y1="673.06" x2="324.91" y2="668.56" class="k"/>
<line x1="366.1" y1="335.6" x2="366.1" y2="340.1" class="k"/>
<line x1="366.1" y1="673.06" x2="366.1" y2="668.56" class="k"/>
<line x1="398.05" y1="335.6" x2="398.05" y2="340.1" class="k"/>
<line x1="398.05" y1="673.06" x2="398.05" y2="668.56" class="k"/>
<line x1="424.16" y1="335.6" x2="424.16" y2="340.1" class="k"/>
<line x1="424.16" y1="673.06" x2="424.16" y2="668.56" class="k"/>
<line x1="446.23" y1="335.6" x2="446.23" y2="340.1" class="k"/>
<line x1="446.23" y1="673.06" x2="446.23" y2="668.56" class="k"/>
<line x1="465.35" y1="335.6" x2="465.35" y2="340.1" class="k"/>
<line x1="465.35" y1="673.06" x2="465.35" y2="668.56" class="k"/>
<line x1="482.21" y1="335.6" x2="482.21" y2="340.1" class="k"/>
<line x1="482.21" y1="673.06" x2="482.21" y2="668.56" class="k"/>
<line x1="497.3" y1="335.6" x2="497.3" y2="345.1" class="k"/>
<line x1="497.3" y1="673.06" x2="497.3" y2="663.56" class="k"/>
<text x="111.5" y="398.4" font-size="13.8" text-anchor="end" >1.2</text>
<text x="111.5" y="445.06" font-size="13.8" text-anchor="end" >1.0</text>
<text x="111.5" y="491.72" font-size="13.8" text-anchor="end" >0.8</text>
<text x="111.5" y="538.38" font-size="13.8" text-anchor="end" >0.6</text>
<text x="111.5" y="585.04" font-size="13.8" text-anchor="end" >0.4</text>
<text x="111.5" y="631.7" font-size="13.8" text-anchor="end" >0.2</text>
<text x="111.5" y="678.36" font-size="13.8" text-anchor="end" >0.0</text>
<text x="105.3" y="355.2" font-size="14.1" text-anchor="end">1.4x10</text><text x="106.6" y="345.3" font-size="9">8</text>
<text x="116.53" y="683.8" font-size="9.9" text-anchor="middle" >7</text>
<text x="135.65" y="683.8" font-size="9.9" text-anchor="middle" >8</text>
<text x="152.51" y="683.8" font-size="9.9" text-anchor="middle" >9</text>
<text x="266.85" y="683.8" font-size="9.9" text-anchor="middle" >2</text>
<text x="324.91" y="683.8" font-size="9.9" text-anchor="middle" >3</text>
<text x="366.1" y="683.8" font-size="9.9" text-anchor="middle" >4</text>
<text x="398.05" y="683.8" font-size="9.9" text-anchor="middle" >5</text>
<text x="424.16" y="683.8" font-size="9.9" text-anchor="middle" >6</text>
<text x="446.23" y="683.8" font-size="9.9" text-anchor="middle" >7</text>
<text x="465.35" y="683.8" font-size="9.9" text-anchor="middle" >8</text>
<text x="482.21" y="683.8" font-size="9.9" text-anchor="middle" >9</text>
<text x="167.6" y="697" font-size="13.2" text-anchor="middle" >1</text>
<text x="497.6" y="697.2" font-size="13.4" text-anchor="middle" >10</text>
<text x="332.75" y="719.4" font-size="20.85" text-anchor="middle" >Relative Resistivity Change After Sweep</text>
<text transform="translate(69.1 505.3) rotate(-90)" font-size="20.6" text-anchor="middle">Peak Current Density (A/m<tspan dy="-13.8" dx="0.5" font-size="14">2</tspan><tspan dy="13.8" dx="2.5">)</tspan></text>
<text x="43.2" y="333.3" font-size="16.5" text-anchor="start" >(c)</text>
<rect x="554.4" y="343.4" width="66" height="24" class="bx"/>
<text x="557.9" y="361.3" font-size="16.6" text-anchor="start" >MCDBB</text>
<rect x="554.4" y="423.4" width="39.8" height="24.6" class="bx"/>
<text x="557.9" y="441.3" font-size="16.6" text-anchor="start" >FCD</text>
<path d="M404.7 629.9 L404.7 613.44 L404.7 605.17 L405.29 596.89 L406.09 592.8 L407.47 590.1 L410.15 587.31 L414.21 585.12 L423.23 582.42 L448.89 579.93 L463.36 577.74 L469.31 575.84 L472.88 573.65 L475.06 571.35 L476.94 568.96 L478.62 563.47 L479.71 555.79 L485.16 547.51" class="" stroke="#f00" stroke-width="1.2" fill="none"/>
<circle cx="404.7" cy="629.9" r="3.5" stroke="#f00" stroke-width="1" fill="none"/>
<circle cx="404.7" cy="613.44" r="3.5" stroke="#f00" stroke-width="1" fill="none"/>
<circle cx="404.7" cy="605.17" r="3.5" stroke="#f00" stroke-width="1" fill="none"/>
<circle cx="405.29" cy="596.89" r="3.5" stroke="#f00" stroke-width="1" fill="none"/>
<circle cx="406.09" cy="592.8" r="3.5" stroke="#f00" stroke-width="1" fill="none"/>
<circle cx="407.47" cy="590.1" r="3.5" stroke="#f00" stroke-width="1" fill="none"/>
<circle cx="410.15" cy="587.31" r="3.5" stroke="#f00" stroke-width="1" fill="none"/>
<circle cx="414.21" cy="585.12" r="3.5" stroke="#f00" stroke-width="1" fill="none"/>
<circle cx="423.23" cy="582.42" r="3.5" stroke="#f00" stroke-width="1" fill="none"/>
<circle cx="448.89" cy="579.93" r="3.5" stroke="#f00" stroke-width="1" fill="none"/>
<circle cx="463.36" cy="577.74" r="3.5" stroke="#f00" stroke-width="1" fill="none"/>
<circle cx="469.31" cy="575.84" r="3.5" stroke="#f00" stroke-width="1" fill="none"/>
<circle cx="472.88" cy="573.65" r="3.5" stroke="#f00" stroke-width="1" fill="none"/>
<circle cx="475.06" cy="571.35" r="3.5" stroke="#f00" stroke-width="1" fill="none"/>
<circle cx="476.94" cy="568.96" r="3.5" stroke="#f00" stroke-width="1" fill="none"/>
<circle cx="478.62" cy="563.47" r="3.5" stroke="#f00" stroke-width="1" fill="none"/>
<circle cx="479.71" cy="555.79" r="3.5" stroke="#f00" stroke-width="1" fill="none"/>
<circle cx="485.16" cy="547.51" r="3.5" stroke="#f00" stroke-width="1" fill="none"/>
<path d="M404.7 629.3 L404.7 613.44 L405.29 596.39 L406.88 580.43 L421.05 571.65 L464.75 568.06 L474.26 563.97 L478.33 555.79 L477.83 547.51 L477.53 539.23 L483.78 531.05 L491.21 522.28 L512.41 514 L530.15 505.52" class="" stroke="#000" stroke-width="1.2" fill="none"/>
<rect x="401.1" y="625.7" width="7.2" height="7.2" stroke="#000" stroke-width="1" fill="none"/>
<rect x="401.1" y="609.84" width="7.2" height="7.2" stroke="#000" stroke-width="1" fill="none"/>
<rect x="401.69" y="592.79" width="7.2" height="7.2" stroke="#000" stroke-width="1" fill="none"/>
<rect x="403.28" y="576.83" width="7.2" height="7.2" stroke="#000" stroke-width="1" fill="none"/>
<rect x="417.45" y="568.05" width="7.2" height="7.2" stroke="#000" stroke-width="1" fill="none"/>
<rect x="461.15" y="564.46" width="7.2" height="7.2" stroke="#000" stroke-width="1" fill="none"/>
<rect x="470.66" y="560.37" width="7.2" height="7.2" stroke="#000" stroke-width="1" fill="none"/>
<rect x="474.73" y="552.19" width="7.2" height="7.2" stroke="#000" stroke-width="1" fill="none"/>
<rect x="474.23" y="543.91" width="7.2" height="7.2" stroke="#000" stroke-width="1" fill="none"/>
<rect x="473.93" y="535.63" width="7.2" height="7.2" stroke="#000" stroke-width="1" fill="none"/>
<rect x="480.18" y="527.45" width="7.2" height="7.2" stroke="#000" stroke-width="1" fill="none"/>
<rect x="487.61" y="518.68" width="7.2" height="7.2" stroke="#000" stroke-width="1" fill="none"/>
<rect x="508.81" y="510.4" width="7.2" height="7.2" stroke="#000" stroke-width="1" fill="none"/>
<rect x="526.55" y="501.92" width="7.2" height="7.2" stroke="#000" stroke-width="1" fill="none"/>
<path d="M404.7 629.9 L404.7 590.1 L406.09 583.22 L409.65 575.54 L415.6 570.85" class="" stroke="#1010e0" stroke-width="1.2" fill="none"/>
<path d="M404.7 625.7L408.9 633.26L400.5 633.26Z" stroke="#1010e0" stroke-width="1" fill="none"/>
<path d="M404.7 585.9L408.9 593.46L400.5 593.46Z" stroke="#1010e0" stroke-width="1" fill="none"/>
<path d="M406.09 579.02L410.29 586.58L401.89 586.58Z" stroke="#1010e0" stroke-width="1" fill="none"/>
<path d="M409.65 571.34L413.85 578.9L405.45 578.9Z" stroke="#1010e0" stroke-width="1" fill="none"/>
<path d="M415.6 566.65L419.8 574.21L411.4 574.21Z" stroke="#1010e0" stroke-width="1" fill="none"/>
<rect x="385.4" y="499.4" width="150.3" height="131.1" class="k" stroke-width="1.1"/>
<line x1="385.4" y1="603.27" x2="392.4" y2="603.27" class="k"/>
<line x1="535.7" y1="603.27" x2="528.7" y2="603.27" class="k"/>
<line x1="385.4" y1="575.84" x2="392.4" y2="575.84" class="k"/>
<line x1="535.7" y1="575.84" x2="528.7" y2="575.84" class="k"/>
<line x1="385.4" y1="548.41" x2="392.4" y2="548.41" class="k"/>
<line x1="535.7" y1="548.41" x2="528.7" y2="548.41" class="k"/>
<line x1="385.4" y1="520.98" x2="392.4" y2="520.98" class="k"/>
<line x1="535.7" y1="520.98" x2="528.7" y2="520.98" class="k"/>
<line x1="392.54" y1="499.4" x2="392.54" y2="503.3" class="k"/>
<line x1="392.54" y1="630.5" x2="392.54" y2="626.6" class="k"/>
<line x1="398.96" y1="499.4" x2="398.96" y2="503.3" class="k"/>
<line x1="398.96" y1="630.5" x2="398.96" y2="626.6" class="k"/>
<line x1="404.7" y1="499.4" x2="404.7" y2="506.4" class="k"/>
<line x1="404.7" y1="630.5" x2="404.7" y2="623.5" class="k"/>
<line x1="442.46" y1="499.4" x2="442.46" y2="503.3" class="k"/>
<line x1="442.46" y1="630.5" x2="442.46" y2="626.6" class="k"/>
<line x1="464.55" y1="499.4" x2="464.55" y2="503.3" class="k"/>
<line x1="464.55" y1="630.5" x2="464.55" y2="626.6" class="k"/>
<line x1="480.23" y1="499.4" x2="480.23" y2="503.3" class="k"/>
<line x1="480.23" y1="630.5" x2="480.23" y2="626.6" class="k"/>
<line x1="492.39" y1="499.4" x2="492.39" y2="503.3" class="k"/>
<line x1="492.39" y1="630.5" x2="492.39" y2="626.6" class="k"/>
<line x1="502.32" y1="499.4" x2="502.32" y2="503.3" class="k"/>
<line x1="502.32" y1="630.5" x2="502.32" y2="626.6" class="k"/>
<line x1="510.72" y1="499.4" x2="510.72" y2="503.3" class="k"/>
<line x1="510.72" y1="630.5" x2="510.72" y2="626.6" class="k"/>
<line x1="517.99" y1="499.4" x2="517.99" y2="503.3" class="k"/>
<line x1="517.99" y1="630.5" x2="517.99" y2="626.6" class="k"/>
<line x1="524.41" y1="499.4" x2="524.41" y2="503.3" class="k"/>
<line x1="524.41" y1="630.5" x2="524.41" y2="626.6" class="k"/>
<line x1="530.15" y1="499.4" x2="530.15" y2="506.4" class="k"/>
<line x1="530.15" y1="630.5" x2="530.15" y2="623.5" class="k"/>
<text x="381.6" y="552.51" font-size="12" text-anchor="end" >3</text>
<text x="381.6" y="579.94" font-size="12" text-anchor="end" >2</text>
<text x="381.6" y="607.37" font-size="12" text-anchor="end" >1</text>
<text x="381.6" y="634.8" font-size="12" text-anchor="end" >0</text>
<text x="377" y="527.9" font-size="12.6" text-anchor="end">4x10</text><text x="376.9" y="519.8" font-size="8.5">8</text>
<text x="385.27" y="639.7" font-size="8.3" text-anchor="middle" >7</text>
<text x="442.46" y="639.7" font-size="8.3" text-anchor="middle" >2</text>
<text x="464.55" y="639.7" font-size="8.3" text-anchor="middle" >3</text>
<text x="480.23" y="639.7" font-size="8.3" text-anchor="middle" >4</text>
<text x="492.39" y="639.7" font-size="8.3" text-anchor="middle" >5</text>
<text x="502.32" y="639.7" font-size="8.3" text-anchor="middle" >6</text>
<text x="510.72" y="639.7" font-size="8.3" text-anchor="middle" >7</text>
<text x="404.7" y="651" font-size="11.8" text-anchor="middle" >1</text>
<text x="530.95" y="651.2" font-size="11.9" text-anchor="middle" >10</text>
<line x1="396.1" y1="515.0" x2="419.5" y2="515.0" stroke="#f00" stroke-width="1.2"/>
<circle cx="407.7" cy="515" r="3.5" stroke="#f00" stroke-width="1" fill="none"/>
<text x="425" y="519.4" font-size="12.3" text-anchor="start" >Argon</text>
<line x1="396.1" y1="529.8" x2="419.5" y2="529.8" stroke="#000" stroke-width="1.2"/>
<rect x="404.1" y="526.2" width="7.2" height="7.2" stroke="#000" stroke-width="1" fill="none"/>
<text x="425" y="534.2" font-size="12.3" text-anchor="start" >Nitrogen</text>
<line x1="396.1" y1="543.5" x2="419.5" y2="543.5" stroke="#1010e0" stroke-width="1.2"/>
<path d="M407.7 539.3L411.9 546.86L403.5 546.86Z" stroke="#1010e0" stroke-width="1" fill="none"/>
<text x="425" y="547.9" font-size="12.3" text-anchor="start" >Air</text>
</svg></body></html>
